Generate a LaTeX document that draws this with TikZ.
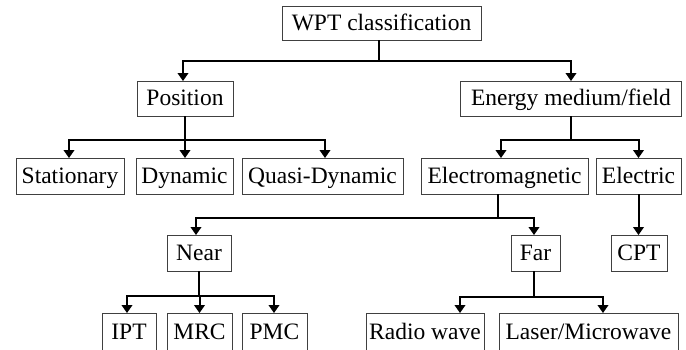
\documentclass[tikz,border=0pt]{standalone}
\usepackage{fontspec}
\setmainfont{Liberation Serif}
\usetikzlibrary{arrows.meta,calc}
\begin{document}
\begin{tikzpicture}[x=1pt,y=-1pt,
  box/.style={draw=black!75,line width=0.9pt,inner sep=0pt,
    minimum height=#1,text height=18pt,text depth=4pt,
    font=\fontsize{23.5}{28}\selectfont},
  box/.default=35,
  link/.style={line width=2pt},
  arr/.style={link,-{Triangle[length=8pt,width=10.5pt]},shorten >=-0.5pt}]
\useasboundingbox (0,0) rectangle (686,349);
\clip (0,0) rectangle (686,349);

% level 0
\node[box=34,minimum width=199] (wpt) at (381.5,23) {WPT classification};
% level 1
\node[box,minimum width=96]  (pos)    at (185,98.5) {Position};
\node[box=35,minimum width=221] (energy) at (571,98.5) {Energy medium/field};
% level 2
\node[box=36,minimum width=108] (stat)  at (70,176)    {Stationary};
\node[box=36,minimum width=97]  (dyn)   at (184.5,176) {Dynamic};
\node[box=36,minimum width=161] (quasi) at (322.5,176) {Quasi-Dynamic};
\node[box=36,minimum width=167] (em)    at (504.5,176) {Electromagnetic};
\node[box=36,minimum width=85]  (elec)  at (638.5,176) {Electric};
% level 3
\node[box=36,minimum width=64] (near) at (199,253)   {Near};
\node[box=36,minimum width=49] (far)  at (535.5,253) {Far};
\node[box=36,minimum width=56] (cpt)  at (639,253)   {CPT};
% level 4
\node[box=38,minimum width=54]  (ipt)   at (129,332)   {IPT};
\node[box=38,minimum width=65]  (mrc)   at (199.5,332) {MRC};
\node[box=38,minimum width=65]  (pmc)   at (274.5,332) {PMC};
\node[box=38,minimum width=118] (radio) at (425,332)   {Radio wave};
\node[box=38,minimum width=179] (laser) at (588.5,332) {Laser/Microwave};

% branch points
\coordinate (j0) at ($(wpt.south)+(-2.5,21)$);
\coordinate (j1) at (pos.south |- 0,140);
\coordinate (j2) at (energy.south |- 0,140);
\coordinate (m0) at ($(em.south)+(-6.5,0)$);
\coordinate (j3) at (m0 |- 0,218);
\coordinate (j4) at (near.south |- 0,295.5);
\coordinate (f0) at ($(far.south)+(-1.5,0)$);
\coordinate (j5) at (f0 |- 0,297);

% WPT classification
\draw[link] ($(wpt.south)+(-2.5,0)$) -- (j0);
\draw[arr] (j0) -| ($(pos.north)+(-2,0)$);
\draw[arr] (j0) -| (energy.north);
% Position
\draw[link] (pos.south) -- (j1);
\draw[arr] (j1) -| ($(stat.north)+(-1,0)$);
\draw[arr] (j1) -- (j1 |- dyn.north);
\draw[arr] (j1) -| ($(quasi.north)+(2.5,0)$);
% Energy medium/field
\draw[link] (energy.south) -- (j2);
\draw[arr] (j2) -| ($(em.north)+(-3.5,0)$);
\draw[arr] (j2) -| (elec.north);
% Electromagnetic
\draw[link] (m0) -- (j3);
\draw[arr] (j3) -| ($(near.north)+(-3,0)$);
\draw[arr] (j3) -| ($(far.north)+(-1.5,0)$);
% Electric
\draw[arr] (elec.south) -- (elec.south |- cpt.north);
% Near
\draw[link] (near.south) -- (j4);
\draw[arr] (j4) -| ($(ipt.north)+(-2,0)$);
\draw[arr] (j4) -| (mrc.north);
\draw[arr] (j4) -| ($(pmc.north)+(-0.5,0)$);
% Far
\draw[link] (f0) -- (j5);
\draw[arr] (j5) -| ($(radio.north)+(35,0)$);
\draw[arr] (j5) -| ($(laser.north)+(14.5,0)$);
\end{tikzpicture}
\end{document}
